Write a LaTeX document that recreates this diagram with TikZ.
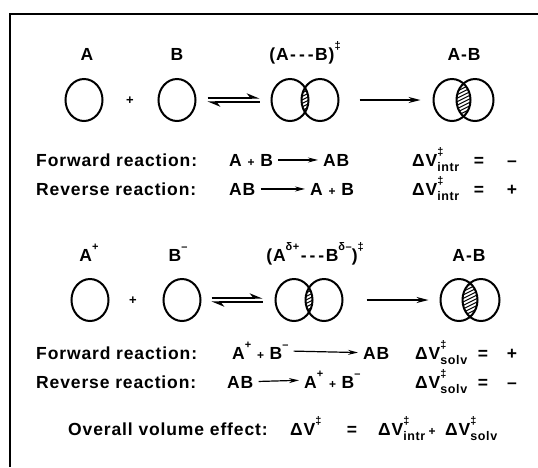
\documentclass[tikz,border=0pt]{standalone}
\usepackage{fontspec}
\setmainfont{Liberation Sans}[LetterSpace=5]
\usetikzlibrary{positioning,arrows.meta,shapes.geometric}

\newcommand{\sups}[1]{\raisebox{0.62em}{\fontsize{11}{11}\selectfont #1}}
\newcommand{\subs}[1]{\raisebox{-0.32em}{\fontsize{12.5}{12}\selectfont #1}}
\newcommand{\dV}[1]{ΔV\rlap{\sups{‡}}\subs{#1}}
\newcommand{\pl}{{\fontsize{12}{12}\selectfont +}}
\newcommand{\dsh}{\kern1.5pt-\kern1.5pt}
% hatched overlap of two circles: centre x, centre y, half distance
\newcommand{\lens}[3]{%
  \begin{scope}[shift={(#1,#2)}]
    \clip (-#3,0) ellipse [x radius=18.5, y radius=21];
    \clip (#3,0) ellipse [x radius=18.5, y radius=21];
    \foreach \k in {-40,-36.5,...,40}
      \draw[line width=1pt] (-20,\k+10) -- (20,\k-10);
  \end{scope}}

\tikzset{
  frame/.style={line width=1.6pt},
  mol/.style={ellipse, draw, line width=2pt, minimum width=37pt,
              minimum height=42pt, inner sep=0pt, outer sep=0pt},
  lbl/.style={font=\bfseries\fontsize{17.5}{20}\selectfont, inner sep=0pt},
  head/.style={lbl, anchor=base},
  txt/.style={lbl, anchor=base west},
  sym/.style={lbl, anchor=base},
  plus/.style={font=\bfseries\fontsize{13}{13}\selectfont, inner sep=0pt},
  eqarr/.style={line width=1.5pt, -{Stealth[harpoon,length=11pt,width=9pt]}},
  fwd/.style={line width=1.5pt, -{Stealth[length=12pt,width=6pt]}},
  rxn/.style={line width=1.2pt, -{Stealth[length=10pt,width=5pt]},
              shorten <=5pt, shorten >=5pt},
}

\begin{document}
\begin{tikzpicture}[x=1pt,y=-1pt]
\useasboundingbox (0,0) rectangle (538,467);
\draw[frame] (10,467) -- (10,14) -- (538,14);

% neutral reactants: intrinsic volume
\node[head] (hA) at (87,60) {A};
\node[head] (hB) at (177,60) {B};
\node[head] (hTS) at (305,60) {(A\dsh\dsh\dsh B)\sups{‡}};
\node[head] (hAB) at (464,60) {A-B};

\lens{305}{100}{15}
\lens{463.5}{100}{11.5}
\node[mol] (mA) at (84,100) {};
\node[plus] (pA) at (130,101) {+};
\node[mol] (mB) at (177,100) {};
\node[mol] (tsL) at (290,100) {};
\node[mol] (tsR) at (320,100) {};
\node[mol] (abL) at (452,100) {};
\node[mol] (abR) at (475,100) {};
\draw[eqarr, shorten <=12pt, shorten >=12pt] ([yshift=2.2pt]mB.east) -- ([yshift=2.2pt]tsL.west);
\draw[eqarr, shorten <=12pt, shorten >=12pt] ([yshift=-2.2pt]tsL.west) -- ([yshift=-2.2pt]mB.east);
\draw[fwd, shorten <=21pt, shorten >=13pt] (tsR.east) -- (abL.west);

\node[txt] (f1) at (36,166) {Forward reaction:};
\node[txt] (f1l) at (229,166) {A \pl{} B};
\node[txt] (f1r) at (323,166) {AB};
\draw[rxn] (f1l) -- (f1r);
\node[txt] (f1v) at (412,166) {\dV{intr}};
\node[sym] (f1e) at (479,166) {=};
\node[sym] (f1s) at (512,166) {–};

\node[txt] (r1) at (36,195) {Reverse reaction:};
\node[txt] (r1l) at (229,195) {AB};
\node[txt] (r1r) at (310,195) {A \pl{} B};
\draw[rxn] (r1l) -- (r1r);
\node[txt] (r1v) at (412,195) {\dV{intr}};
\node[sym] (r1e) at (479,195) {=};
\node[sym] (r1s) at (512,195) {+};

% ions: solvation volume
\node[head] (hAp) at (89,261) {A\sups{+}};
\node[head] (hBm) at (178,261) {B\sups{–}};
\node[head] (hTS2) at (315,261) {(A\sups{δ+}\dsh\dsh\dsh B\sups{δ–})\sups{‡}};
\node[head] (hAB2) at (469,261) {A\kern1pt-\kern1pt B};

\lens{309}{300}{15}
\lens{470}{300}{11}
\node[mol] (mAp) at (90,300) {};
\node[plus] (pAp) at (133,301) {+};
\node[mol] (mBm) at (182,300) {};
\node[mol] (ts2L) at (294,300) {};
\node[mol] (ts2R) at (324,300) {};
\node[mol] (ab2L) at (459,300) {};
\node[mol] (ab2R) at (481,300) {};
\draw[eqarr, shorten <=11pt, shorten >=13pt] ([yshift=2.2pt]mBm.east) -- ([yshift=2.2pt]ts2L.west);
\draw[eqarr, shorten <=13pt, shorten >=11pt] ([yshift=-2.2pt]ts2L.west) -- ([yshift=-2.2pt]mBm.east);
\draw[fwd, shorten <=24pt, shorten >=12pt] (ts2R.east) -- (ab2L.west);

\node[txt] (f2) at (36,359) {Forward reaction:};
\node[txt] (f2l) at (232,359) {A\sups{+} \pl{} B\sups{–}};
\node[txt] (f2r) at (363,359) {AB};
\draw[rxn] (f2l) -- (f2r);
\node[txt] (f2v) at (415,359) {\dV{solv}};
\node[sym] (f2e) at (483,359) {=};
\node[sym] (f2s) at (512,359) {+};

\node[txt] (r2) at (36,388) {Reverse reaction:};
\node[txt] (r2l) at (227,388) {AB};
\node[txt] (r2r) at (304,388) {A\sups{+} \pl{} B\sups{–}};
\draw[rxn] (r2l) -- (r2r);
\node[txt] (r2v) at (415,388) {\dV{solv}};
\node[sym] (r2e) at (483,388) {=};
\node[sym] (r2s) at (512,388) {–};

\node[txt] (ov) at (68,435) {Overall volume effect:};
\node[txt] (ovv) at (290,435) {ΔV\sups{‡}};
\node[sym] (ove) at (352,435) {=};
\node[txt] (ovi) at (378,435) {\dV{intr}};
\node[sym] (ovp) at (432,435) {\pl};
\node[txt] (ovs) at (445,435) {\dV{solv}};
\end{tikzpicture}
\end{document}
